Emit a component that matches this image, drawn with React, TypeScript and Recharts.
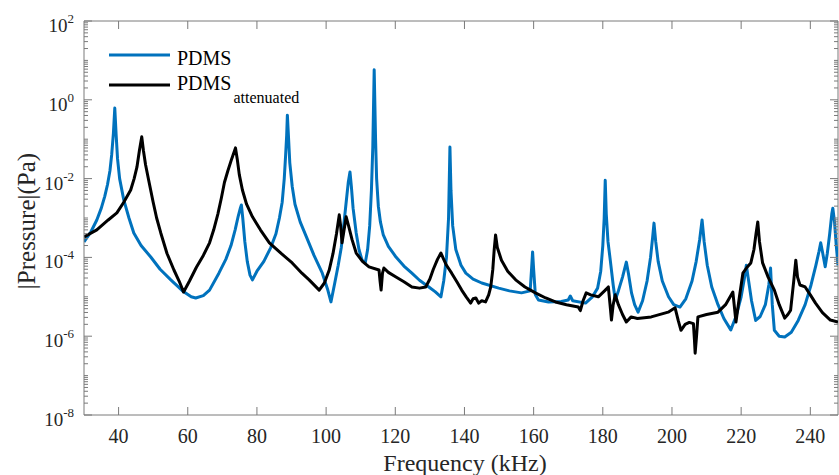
import { LineChart, Line, XAxis, YAxis, ReferenceLine } from 'recharts';

// frequency (kHz) and log10(|p| / Pa)
const pdmsFreq = [
  30, 32, 33.7, 35, 36, 36.8, 37.5, 38, 38.5, 38.9, 39.3, 39.7, 40.3, 41.5, 43, 44.4, 46.5, 49.3, 52, 55.1,
  58.5, 61, 62.3, 64.5, 66.3, 69, 71, 72.5, 73.7, 74.6, 75.2, 75.5, 75.9, 76.5, 77.2, 78, 78.7, 80, 82, 84,
  85.5, 86.5, 87.3, 87.9, 88.3, 88.6, 88.8, 89.1, 89.5, 90.2, 91, 92.5, 94.3, 96.5, 98.9, 100.4, 101.4, 102.5, 103.5, 104.4,
  105.2, 105.8, 106.4, 106.9, 107.3, 107.8, 108.7, 109.5, 110.4, 111.3, 112, 112.6, 113.1, 113.5, 113.9, 114.3, 114.6, 115.1, 115.7, 116.5,
  118, 120.2, 122.5, 124.8, 127, 129.7, 131.5, 133.2, 134, 134.8, 135.4, 135.8, 136.1, 136.6, 137.5, 139, 140.4, 142.5, 145, 149.9,
  153, 156.5, 159, 159.4, 159.7, 160, 160.5, 161.4, 164.3, 168, 170, 170.6, 171.3, 175, 177, 178.5, 179.4, 180, 180.4, 180.7,
  181, 181.5, 182.2, 183, 183.6, 184.5, 185.7, 186.8, 187.4, 188.3, 189.2, 190.2, 191.5, 192.8, 193.8, 194.4, 194.8, 195.3, 196, 197.2,
  199, 200.5, 202.3, 204, 205.8, 207, 208, 208.7, 209.3, 210.2, 211.5, 213.3, 215, 217, 218.5, 220, 221, 221.5, 222, 223,
  224.2, 225.5, 227, 228, 228.5, 229, 229.6, 231, 232.6, 234.5, 236.5, 238.5, 240.2, 241.6, 242.5, 243, 243.6, 244.3, 244.9, 245.6,
  246.2, 246.5, 247, 247.5, 248,
];
const pdmsLogP = [
  -3.61, -3.35, -3.05, -2.75, -2.45, -2.15, -1.8, -1.4, -0.85, -0.21, -0.9, -1.5, -2.0, -2.54, -3.0, -3.38, -3.7, -3.99, -4.3, -4.57,
  -4.85, -5.0, -5.03, -4.97, -4.83, -4.4, -4.05, -3.7, -3.3, -2.95, -2.75, -2.67, -3.0, -3.6, -4.1, -4.45, -4.57, -4.35, -4.1, -3.75,
  -3.4, -3.0, -2.6, -2.0, -1.4, -0.9, -0.39, -0.9, -1.6, -2.2, -2.65, -3.1, -3.48, -3.95, -4.4, -4.8, -5.13, -4.65, -4.2, -3.74,
  -3.1, -2.6, -2.1, -1.83, -2.2, -2.75, -3.38, -3.8, -4.07, -4.15, -3.8, -3.2, -2.3, -1.2, 0.76, -1.0, -2.0, -2.7, -3.1, -3.42,
  -3.72, -3.99, -4.22, -4.4, -4.58, -4.75, -4.87, -5.0, -4.6, -4.0, -3.0, -1.2, -2.3, -3.2, -3.8, -4.2, -4.4, -4.55, -4.65, -4.78,
  -4.85, -4.9, -4.85, -4.3, -3.86, -4.3, -4.95, -5.08, -5.13, -5.12, -5.08, -4.98, -5.1, -5.16, -5.0, -4.78, -4.35, -3.7, -3.0, -2.04,
  -2.9, -3.6, -4.1, -4.7, -5.08, -4.85, -4.5, -4.12, -4.4, -4.9, -5.2, -5.39, -5.1, -4.6, -4.0, -3.5, -3.13, -3.6, -4.1, -4.6,
  -5.0, -5.2, -5.26, -5.05, -4.6, -4.1, -3.55, -3.05, -3.6, -4.2, -4.75, -5.2, -5.55, -5.84, -5.5, -5.0, -4.5, -4.2, -4.5, -5.1,
  -5.6, -5.5, -5.2, -4.7, -4.27, -5.2, -5.85, -6.0, -6.02, -5.9, -5.6, -5.2, -4.7, -4.2, -3.85, -3.63, -3.9, -4.24, -3.9, -3.4,
  -2.9, -2.75, -3.1, -3.7, -4.2,
];

const attFreq = [
  30, 33.7, 37, 39.5, 41.5, 43.5, 44.5, 45.3, 46, 46.7, 47.2, 47.8, 48.7, 50, 51, 52.2, 54, 56, 57.5, 58.8,
  60.5, 62.5, 64.5, 66.3, 67.5, 68.7, 69.7, 70.6, 71.6, 72.7, 73.3, 73.8, 74.3, 74.9, 75.8, 77, 78.7, 81, 83.6, 87,
  90.2, 93, 95.1, 98, 99.5, 100.9, 102, 103, 103.8, 104.2, 104.6, 105.2, 105.8, 106.5, 107.5, 108.7, 110.5, 112.4, 115.3, 115.6,
  115.9, 116.3, 116.7, 118, 120.2, 122.5, 124.8, 127, 128.8, 130, 131, 132.2, 133.2, 134, 134.8, 136.3, 137.8, 139.2, 140.5, 141.8,
  142.5, 143.3, 144.1, 145, 146.1, 147, 147.6, 148.2, 148.6, 149, 149.5, 150.7, 152.5, 154.8, 157.5, 160.5, 163.5, 166.3, 169.5, 172.9,
  173.5, 174.3, 175.2, 176.5, 178.7, 180.5, 181.6, 182.2, 182.5, 183, 183.6, 184.5, 185.7, 186.8, 188.2, 190, 194, 198.9, 200.9, 201.8,
  202.6, 203.8, 205, 206.2, 206.5, 206.7, 207.1, 207.5, 210, 213.3, 215.5, 217.6, 218.1, 218.5, 219.5, 220.5, 221.7, 222.8, 223.7, 224.3,
  224.8, 225.3, 226.2, 227.8, 229.6, 231, 232.6, 233.5, 234.3, 235.2, 235.8, 236.3, 237, 238.5, 240, 241.5, 243.5, 245.8, 248,
];
const attLogP = [
  -3.48, -3.3, -3.05, -2.87, -2.6, -2.29, -2.0, -1.71, -1.3, -0.94, -1.3, -1.65, -2.04, -2.6, -3.0, -3.38, -3.9, -4.32, -4.6, -4.88,
  -4.6, -4.25, -3.95, -3.63, -3.3, -2.9, -2.5, -2.1, -1.8, -1.5, -1.35, -1.22, -1.5, -1.9, -2.29, -2.65, -2.97, -3.3, -3.63, -3.9,
  -4.14, -4.4, -4.57, -4.83, -4.65, -4.32, -3.9, -3.4, -2.92, -3.2, -3.63, -3.3, -2.97, -3.2, -3.55, -3.89, -4.1, -4.24, -4.32, -4.6,
  -4.83, -4.4, -4.27, -4.38, -4.5, -4.62, -4.75, -4.78, -4.75, -4.55, -4.3, -4.05, -3.89, -4.05, -4.2, -4.4, -4.62, -4.83, -5.0, -5.16,
  -5.05, -5.03, -5.16, -5.1, -5.13, -4.95, -4.75, -4.3, -3.8, -3.43, -3.75, -4.07, -4.35, -4.57, -4.75, -4.9, -5.03, -5.13, -5.2, -5.26,
  -5.35, -5.1, -4.9, -4.95, -5.0, -4.85, -4.75, -5.3, -5.59, -5.2, -4.95, -5.2, -5.45, -5.64, -5.51, -5.55, -5.51, -5.39, -5.28, -5.6,
  -5.85, -5.7, -5.65, -5.68, -6.1, -6.43, -6.0, -5.51, -5.45, -5.39, -5.2, -4.88, -5.3, -5.64, -5.0, -4.4, -4.25, -4.14, -3.8, -3.4,
  -3.1, -3.6, -4.14, -4.5, -4.83, -5.2, -5.54, -5.45, -5.34, -4.6, -4.07, -4.5, -4.7, -4.75, -4.95, -5.16, -5.4, -5.59, -5.64,
];

const xTicks = [40, 60, 80, 100, 120, 140, 160, 180, 200, 220, 240];
const labelledDecades = [-8, -6, -4, -2, 0, 2];

const pdmsData = pdmsFreq.map((f, i) => ({ f, p: Math.pow(10, pdmsLogP[i]) }));
const attData = attFreq.map((f, i) => ({ f, p: Math.pow(10, attLogP[i]) }));

// log axis ticks: 1..9 x 10^n (minor ones drawn short, no label)
const yTicks: number[] = [];
for (let e = -8; e < 2; e++) for (let m = 1; m < 10; m++) yTicks.push(m * Math.pow(10, e));
yTicks.push(100);

const W = 839;
const H = 475;
const TOP = 21;
const RIGHT = 838;
const AX = '#7a7a7a';
const TXT = '#262626';
const FONT = '"Liberation Serif", "Times New Roman", serif';

// force the serif face on every text node, inside the chart svg too
const css = `.fig text, .fig tspan { font-family: ${FONT} !important; }`;

function XTick(props: any) {
  const { x, y, payload } = props;
  return (
    <g>
      <line x1={x} x2={x} y1={y} y2={y - 8} stroke={AX} />
      <line x1={x} x2={x} y1={TOP} y2={TOP + 8} stroke={AX} />
      <text x={x} y={y + 28} textAnchor="middle" fontSize={20} fontFamily={FONT} fill={TXT}>
        {payload.value}
      </text>
    </g>
  );
}

function YTick(props: any) {
  const { x, y, payload } = props;
  const lg = Math.log10(payload.value);
  const e = Math.round(lg);
  const decade = Math.abs(lg - e) < 1e-6;
  const labelled = decade && labelledDecades.includes(e);
  const len = labelled ? 8 : 4;
  return (
    <g>
      <line x1={x} x2={x + len} y1={y} y2={y} stroke={AX} />
      <line x1={RIGHT} x2={RIGHT - len} y1={y} y2={y} stroke={AX} />
      {labelled && (
        <text x={x - 10} y={y + 11} textAnchor="end" fontSize={19} fontFamily={FONT} fill={TXT}>
          <tspan>10</tspan>
          <tspan dy={-9} fontSize={13}>{e}</tspan>
        </text>
      )}
    </g>
  );
}

function XTitle() {
  return (
    <text x={465} y={471} textAnchor="middle" fontSize={24} fontFamily={FONT} fill={TXT}>
      Frequency (kHz)
    </text>
  );
}

function YTitle() {
  return (
    <text
      x={35}
      y={221}
      transform="rotate(-90 35 221)"
      textAnchor="middle"
      fontSize={25}
      fontFamily={FONT}
      fill={TXT}
    >
      |Pressure|(Pa)
    </text>
  );
}

export default function App() {
  return (
    <div
      className="fig"
      style={{ position: 'absolute', left: 0, top: 0, width: W, height: H, background: '#fff', fontFamily: FONT }}
    >
      <style>{css}</style>
      <LineChart width={W} height={H} margin={{ top: TOP, right: W - RIGHT, bottom: 0, left: 0 }}>
        <XAxis
          type="number"
          dataKey="f"
          domain={[30, 248]}
          allowDataOverflow
          ticks={xTicks}
          interval={0}
          height={60}
          stroke={AX}
          tickSize={0}
          tickMargin={0}
          tickLine={false}
          tick={(p: any) => <XTick {...p} />}
          label={<XTitle />}
        />
        <YAxis
          type="number"
          scale="log"
          domain={[1e-8, 1e2]}
          allowDataOverflow
          ticks={yTicks}
          interval={0}
          width={84}
          stroke={AX}
          tickSize={0}
          tickMargin={0}
          tickLine={false}
          tick={(p: any) => <YTick {...p} />}
          label={<YTitle />}
        />
        <ReferenceLine y={100} stroke={AX} ifOverflow="visible" />
        <ReferenceLine x={248} stroke={AX} ifOverflow="visible" />
        <Line
          data={pdmsData}
          dataKey="p"
          type="linear"
          stroke="#0072BD"
          strokeWidth={3}
          strokeLinejoin="round"
          dot={false}
          isAnimationActive={false}
        />
        <Line
          data={attData}
          dataKey="p"
          type="linear"
          stroke="#000000"
          strokeWidth={3}
          strokeLinejoin="round"
          dot={false}
          isAnimationActive={false}
        />
      </LineChart>
      <svg
        width={220}
        height={70}
        style={{ position: 'absolute', left: 100, top: 40, pointerEvents: 'none' }}
      >
        <line x1={9} x2={70} y1={15} y2={15} stroke="#0072BD" strokeWidth={3} />
        <text x={77} y={25} fontSize={20} fill="#000">PDMS</text>
        <line x1={9} x2={70} y1={45} y2={45} stroke="#000" strokeWidth={3} />
        <text x={77} y={50} fontSize={20} fill="#000">
          PDMS
          <tspan dx={2} dy={13} fontSize={16}>attenuated</tspan>
        </text>
      </svg>
    </div>
  );
}
